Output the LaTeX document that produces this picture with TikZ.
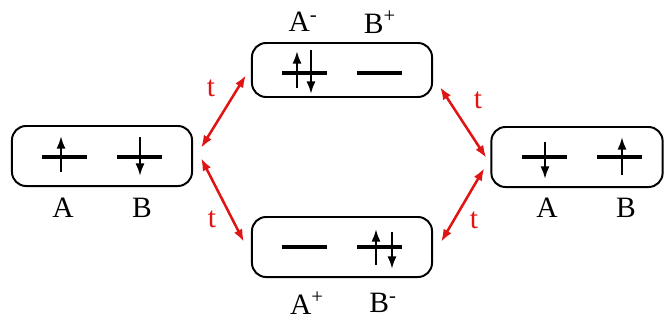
\documentclass[tikz,border=0pt]{standalone}
\usepackage{fontspec}
\setmainfont{Liberation Serif}
\usetikzlibrary{arrows.meta,positioning}
\definecolor{hopred}{RGB}{225,20,20}
\tikzset{>={Latex[length=9pt,width=6.5pt]}}
\tikzset{
  site/.style={draw, line width=1.4pt, rounded corners=10pt,
    minimum width=4.5cm, minimum height=1.5cm, inner sep=0pt},
  level/.style={line width=2.8pt},
  spin/.style={line width=1.6pt, ->},
  hop/.style={hopred, line width=1.8pt, <->},
  lbl/.style={font=\fontsize{21}{24}\selectfont, inner sep=0pt},
  tlbl/.style={lbl, text=hopred}
}
\begin{document}
\begin{tikzpicture}[x=0.025cm, y=-0.025cm]
  \useasboundingbox (0,0) rectangle (664,325);
  % the four configurations
  \node[site] (left) at (102,156) {};
  \node[site, minimum height=1.35cm] (top) at (342,70) {};
  \node[site] (bot) at (342,247) {};
  \node[site, minimum width=4.28cm] (right) at (577,157) {};

  % left: A up, B down
  \draw[level] (42,157) -- (87,157);
  \draw[level] (117,157) -- (162,157);
  \draw[spin] (61,172) -- (61,136);
  \draw[spin] (140,137) -- (140,176);
  \node[lbl] (lA) at (63,208) {A};
  \node[lbl] (lB) at (142,208) {B};

  % top: A doubly occupied
  \draw[level] (282,73) -- (327,73);
  \draw[level] (357,73) -- (402,73);
  \draw[spin] (297,88) -- (297,51);
  \draw[spin] (311,50) -- (311,94);
  \node[lbl] (tA) at (303,22) {A\textsuperscript{-}};
  \node[lbl] (tB) at (380,22) {B\textsuperscript{+}};

  % bottom: B doubly occupied
  \draw[level] (282,247) -- (327,247);
  \draw[level] (357,247) -- (402,247);
  \draw[spin] (376,265) -- (376,229);
  \draw[spin] (392,232) -- (392,269);
  \node[lbl] (bA) at (307,303) {A\textsuperscript{+}};
  \node[lbl] (bB) at (383,303) {B\textsuperscript{-}};

  % right: A down, B up
  \draw[level] (522,157) -- (567,157);
  \draw[level] (597,157) -- (642,157);
  \draw[spin] (545,142) -- (545,179);
  \draw[spin] (622,175) -- (622,137);
  \node[lbl] (rA) at (547,208) {A};
  \node[lbl] (rB) at (626,208) {B};

  % hopping
  \draw[hop] ([shift={(8,-8)}]left.east) -- ([shift={(-5,5)}]top.west);
  \draw[hop] ([shift={(8,2)}]left.east) -- ([shift={(-7,-5)}]bot.west);
  \draw[hop] ([shift={(7,17)}]top.east) -- ([shift={(-4,1)}]right.west);
  \draw[hop] ([shift={(-6,11)}]right.west) -- ([shift={(8,-5)}]bot.east);
  \node[tlbl] (t1) at (211,88) {t};
  \node[tlbl] (t2) at (212,219) {t};
  \node[tlbl] (t3) at (478,100) {t};
  \node[tlbl] (t4) at (474,220) {t};
\end{tikzpicture}
\end{document}
